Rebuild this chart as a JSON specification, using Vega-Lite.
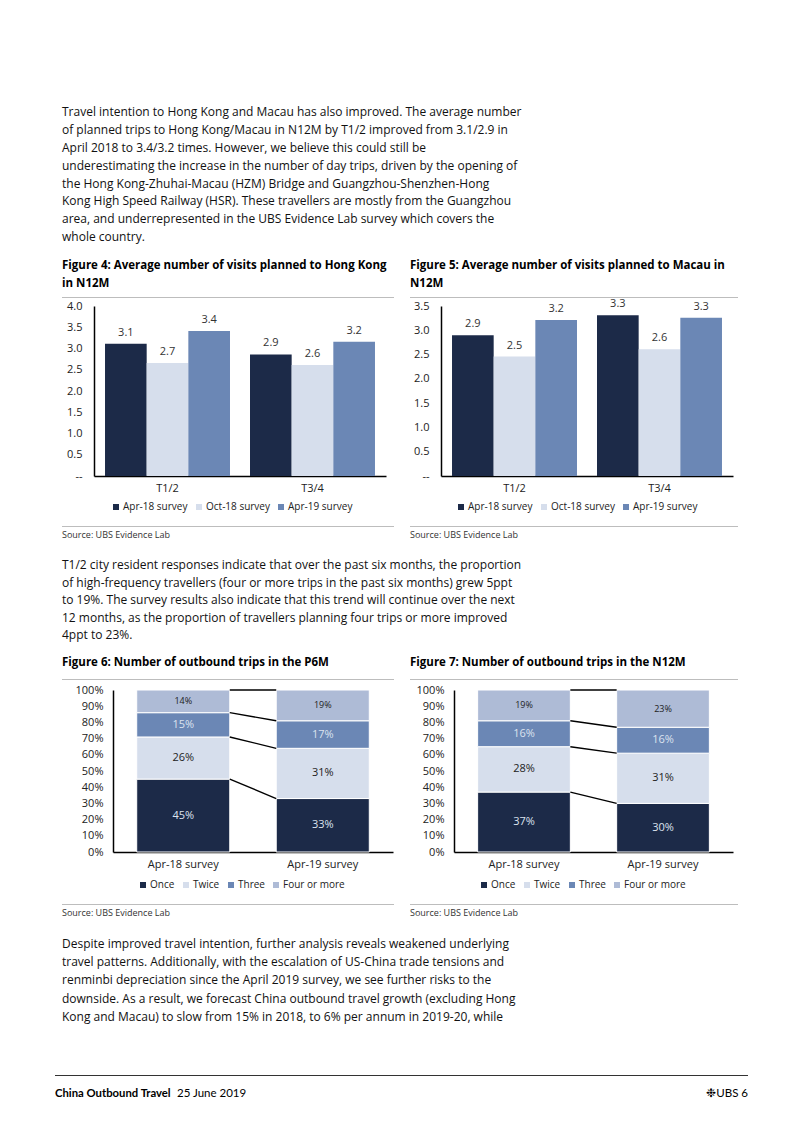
{
  "$schema": "https://vega.github.io/schema/vega-lite/v6.json",
  "background": "white",
  "padding": {"left": 45, "top": 106, "right": 0, "bottom": 0},
  "config": {
    "font": "Open Sans",
    "view": {"stroke": null},
    "axis": {"labelFont": "Open Sans", "labelFontSize": 11, "labelColor": "#222", "domainColor": "#000", "domainWidth": 1.5, "ticks": false, "grid": false, "title": null, "labelOverlap": false},
    "legend": {"labelFont": "Open Sans", "labelFontSize": 10, "labelColor": "#222", "symbolType": "square", "symbolSize": 36, "symbolStrokeWidth": 0, "columnPadding": 6, "labelOffset": 2, "padding": 6, "orient": "none", "direction": "horizontal", "title": null},
    "title": {"font": "Open Sans", "color": "#111"}
  },
  "resolve": {"scale": {"color": "independent", "x": "independent", "y": "independent"}, "legend": {"color": "independent"}},
  "spacing": 19,
  "vconcat": [
    {
      "title": {"text": [
        "Travel intention to Hong Kong and Macau has also improved. The average number",
        "of planned trips to Hong Kong/Macau in N12M by T1/2 improved from 3.1/2.9 in",
        "April 2018 to 3.4/3.2 times. However, we believe this could still be",
        "underestimating the increase in the number of day trips, driven by the opening of",
        "the Hong Kong-Zhuhai-Macau (HZM) Bridge and Guangzhou-Shenzhen-Hong",
        "Kong High Speed Railway (HSR). These travellers are mostly from the Guangzhou",
        "area, and underrepresented in the UBS Evidence Lab survey which covers the",
        "whole country."],
        "anchor": "start", "frame": "bounds", "dx": 17, "fontSize": 12, "fontWeight": "normal", "lineHeight": 17.8, "offset": 16},
      "spacing": 0,
      "resolve": {"scale": {"color": "independent", "x": "independent", "y": "independent"}, "legend": {"color": "independent"}},
      "vconcat": [
        {
          "spacing": 16,
          "hconcat": [
            {"width": 1, "height": 1, "view": {"fill": "white", "stroke": null}, "data": {"values": []}, "mark": "text", "encoding": {"text": {"value": ""}}},
            {
              "width": 332, "height": 1,
              "title": {"text": ["Figure 4: Average number of visits planned to Hong Kong", "in N12M"], "anchor": "start", "frame": "group", "fontSize": 11.5, "fontWeight": "bold", "lineHeight": 18, "offset": 7.5, "color": "#000"},
              "view": {"fill": "#bdbdbd", "stroke": null},
              "data": {"values": []}, "mark": "text", "encoding": {"text": {"value": ""}}
            },
            {
              "width": 328, "height": 1,
              "title": {"text": ["Figure 5: Average number of visits planned to Macau in", "N12M"], "anchor": "start", "frame": "group", "fontSize": 11.5, "fontWeight": "bold", "lineHeight": 18, "offset": 7.5, "color": "#000"},
              "view": {"fill": "#bdbdbd", "stroke": null},
              "data": {"values": []}, "mark": "text", "encoding": {"text": {"value": ""}}
            }
          ]
        },
        {
          "spacing": 16,
          "resolve": {"scale": {"color": "independent", "x": "independent", "y": "independent"}, "legend": {"color": "independent"}},
          "hconcat": [
            {"width": 1, "height": 1, "view": {"fill": "white", "stroke": null}, "data": {"values": []}, "mark": "text", "encoding": {"text": {"value": ""}}},
            {
              "width": 292, "height": 170,
              "data": {"values": [
                {"group": "T1/2", "series": "Apr-18 survey", "v": 3.11},
                {"group": "T1/2", "series": "Oct-18 survey", "v": 2.66},
                {"group": "T1/2", "series": "Apr-19 survey", "v": 3.41},
                {"group": "T3/4", "series": "Apr-18 survey", "v": 2.86},
                {"group": "T3/4", "series": "Oct-18 survey", "v": 2.61},
                {"group": "T3/4", "series": "Apr-19 survey", "v": 3.16}
              ]},
              "encoding": {
                "x": {"field": "group", "type": "nominal", "scale": {"paddingInner": 0.138, "paddingOuter": 0.076}, "axis": {"labelAngle": 0, "labelPadding": 6}},
                "xOffset": {"field": "series", "type": "nominal", "sort": ["Apr-18 survey", "Oct-18 survey", "Apr-19 survey"], "scale": {"paddingInner": 0, "paddingOuter": 0}},
                "y": {"field": "v", "type": "quantitative", "scale": {"domain": [0, 4]}, "axis": {"values": [0, 0.5, 1, 1.5, 2, 2.5, 3, 3.5, 4], "labelPadding": 12, "minExtent": 32, "labelExpr": "datum.value === 0 ? '--' : format(datum.value, '.1f')"}}
              },
              "layer": [
                {"mark": {"type": "bar"},
                 "encoding": {"color": {"field": "series", "type": "nominal", "sort": ["Apr-18 survey", "Oct-18 survey", "Apr-19 survey"], "scale": {"domain": ["Apr-18 survey", "Oct-18 survey", "Apr-19 survey"], "range": ["#1c2a48", "#d6deec", "#6b87b5"]}, "legend": {"legendX": 3, "legendY": 182, "padding": 14}}}},
                {"mark": {"type": "text", "dy": -11, "fontSize": 11, "color": "#333"},
                 "encoding": {"text": {"field": "v", "type": "quantitative", "format": ".1f"}}}
              ]
            },
            {
              "width": 292, "height": 170,
              "data": {"values": [
                {"group": "T1/2", "series": "Apr-18 survey", "v": 2.90},
                {"group": "T1/2", "series": "Oct-18 survey", "v": 2.46},
                {"group": "T1/2", "series": "Apr-19 survey", "v": 3.21},
                {"group": "T3/4", "series": "Apr-18 survey", "v": 3.31},
                {"group": "T3/4", "series": "Oct-18 survey", "v": 2.61},
                {"group": "T3/4", "series": "Apr-19 survey", "v": 3.26}
              ]},
              "encoding": {
                "x": {"field": "group", "type": "nominal", "scale": {"paddingInner": 0.138, "paddingOuter": 0.076}, "axis": {"labelAngle": 0, "labelPadding": 6}},
                "xOffset": {"field": "series", "type": "nominal", "sort": ["Apr-18 survey", "Oct-18 survey", "Apr-19 survey"], "scale": {"paddingInner": 0, "paddingOuter": 0}},
                "y": {"field": "v", "type": "quantitative", "scale": {"domain": [0, 3.5]}, "axis": {"values": [0, 0.5, 1, 1.5, 2, 2.5, 3, 3.5], "labelPadding": 12, "minExtent": 39, "labelExpr": "datum.value === 0 ? '--' : format(datum.value, '.1f')"}}
              },
              "layer": [
                {"mark": {"type": "bar"},
                 "encoding": {"color": {"field": "series", "type": "nominal", "sort": ["Apr-18 survey", "Oct-18 survey", "Apr-19 survey"], "scale": {"domain": ["Apr-18 survey", "Oct-18 survey", "Apr-19 survey"], "range": ["#1c2a48", "#d6deec", "#6b87b5"]}, "legend": {"legendX": 1, "legendY": 182, "padding": 14}}}},
                {"mark": {"type": "text", "dy": -11, "fontSize": 11, "color": "#333"},
                 "encoding": {"text": {"field": "v", "type": "quantitative", "format": ".1f"}}}
              ]
            }
          ]
        },
        {
          "spacing": 16,
          "hconcat": [
            {"width": 1, "height": 1, "view": {"fill": "white", "stroke": null}, "data": {"values": []}, "mark": "text", "encoding": {"text": {"value": ""}}},
            {
              "width": 332, "height": 1,
              "title": {"text": "Source:  UBS Evidence Lab", "orient": "bottom", "anchor": "start", "frame": "group", "fontSize": 9, "fontWeight": "normal", "color": "#333", "offset": 4},
              "view": {"fill": "#bdbdbd", "stroke": null},
              "data": {"values": []}, "mark": "text", "encoding": {"text": {"value": ""}}
            },
            {
              "width": 328, "height": 1,
              "title": {"text": "Source:  UBS Evidence Lab", "orient": "bottom", "anchor": "start", "frame": "group", "fontSize": 9, "fontWeight": "normal", "color": "#333", "offset": 4},
              "view": {"fill": "#bdbdbd", "stroke": null},
              "data": {"values": []}, "mark": "text", "encoding": {"text": {"value": ""}}
            }
          ]
        }
      ]
    },
    {
      "title": {"text": [
        "T1/2 city resident responses indicate that over the past six months, the proportion",
        "of high-frequency travellers (four or more trips in the past six months) grew 5ppt",
        "to 19%. The survey results also indicate that this trend will continue over the next",
        "12 months, as the proportion of travellers planning four trips or more improved",
        "4ppt to 23%."],
        "anchor": "start", "frame": "bounds", "dx": 17, "fontSize": 12, "fontWeight": "normal", "lineHeight": 17.5, "offset": 15},
      "spacing": 4,
      "resolve": {"scale": {"color": "independent", "x": "independent", "y": "independent"}, "legend": {"color": "independent"}},
      "vconcat": [
        {
          "spacing": 16,
          "hconcat": [
            {"width": 1, "height": 1, "view": {"fill": "white", "stroke": null}, "data": {"values": []}, "mark": "text", "encoding": {"text": {"value": ""}}},
            {
              "width": 332, "height": 1,
              "title": {"text": "Figure 6: Number of outbound trips in the P6M", "anchor": "start", "frame": "group", "fontSize": 11.5, "fontWeight": "bold", "offset": 10.5, "color": "#000"},
              "view": {"fill": "#bdbdbd", "stroke": null},
              "data": {"values": []}, "mark": "text", "encoding": {"text": {"value": ""}}
            },
            {
              "width": 328, "height": 1,
              "title": {"text": "Figure 7: Number of outbound trips in the N12M", "anchor": "start", "frame": "group", "fontSize": 11.5, "fontWeight": "bold", "offset": 10.5, "color": "#000"},
              "view": {"fill": "#bdbdbd", "stroke": null},
              "data": {"values": []}, "mark": "text", "encoding": {"text": {"value": ""}}
            }
          ]
        },
        {
          "spacing": 16,
          "resolve": {"scale": {"color": "independent", "x": "independent", "y": "independent"}, "legend": {"color": "independent"}},
          "hconcat": [
            {"width": 1, "height": 1, "view": {"fill": "white", "stroke": null}, "data": {"values": []}, "mark": "text", "encoding": {"text": {"value": ""}}},
            {
              "width": 280, "height": 162,
              "layer": [
                {
                  "data": {"values": [
                    {"survey": "Apr-18 survey", "trips": "Once", "k": 1, "p": 0.45},
                    {"survey": "Apr-18 survey", "trips": "Twice", "k": 2, "p": 0.26},
                    {"survey": "Apr-18 survey", "trips": "Three", "k": 3, "p": 0.15},
                    {"survey": "Apr-18 survey", "trips": "Four or more", "k": 4, "p": 0.14},
                    {"survey": "Apr-19 survey", "trips": "Once", "k": 1, "p": 0.33},
                    {"survey": "Apr-19 survey", "trips": "Twice", "k": 2, "p": 0.31},
                    {"survey": "Apr-19 survey", "trips": "Three", "k": 3, "p": 0.17},
                    {"survey": "Apr-19 survey", "trips": "Four or more", "k": 4, "p": 0.19}
                  ]},
                  "encoding": {
                    "x": {"field": "survey", "type": "nominal", "scale": {"paddingInner": 0.333, "paddingOuter": 0.17}, "axis": {"labelAngle": 0, "labelPadding": 6}},
                    "y": {"field": "p", "type": "quantitative", "stack": "zero", "scale": {"domain": [0, 1]}, "axis": {"values": [0, 0.1, 0.2, 0.3, 0.4, 0.5, 0.6, 0.7, 0.8, 0.9, 1], "format": ".0%", "labelPadding": 10, "minExtent": 51}},
                    "order": {"field": "k", "type": "quantitative"}
                  },
                  "layer": [
                    {"mark": {"type": "bar", "stroke": "white", "strokeWidth": 1},
                     "encoding": {"color": {"field": "trips", "type": "nominal", "sort": ["Once", "Twice", "Three", "Four or more"], "scale": {"domain": ["Once", "Twice", "Three", "Four or more"], "range": ["#1c2a48", "#d6deec", "#6b87b5", "#aebbd6"]}, "legend": {"legendX": 15, "legendY": 180, "padding": 10}}}},
                    {"mark": {"type": "text"},
                     "encoding": {
                       "y": {"field": "p", "type": "quantitative", "stack": "zero", "bandPosition": 0.5, "axis": {"values": [0, 0.1, 0.2, 0.3, 0.4, 0.5, 0.6, 0.7, 0.8, 0.9, 1], "format": ".0%", "labelPadding": 10, "minExtent": 51}},
                       "text": {"field": "p", "type": "quantitative", "format": ".0%"},
                       "size": {"condition": {"test": "datum.trips === 'Four or more'", "value": 9}, "value": 11},
                       "color": {"condition": {"test": "datum.trips === 'Once' || datum.trips === 'Three'", "value": "#dce3ef"}, "value": "#222"}
                     }}
                  ]
                },
                {
                  "data": {"values": [
                    {"from": "Apr-18 survey", "to": "Apr-19 survey", "a": 0.45, "b": 0.33},
                    {"from": "Apr-18 survey", "to": "Apr-19 survey", "a": 0.71, "b": 0.64},
                    {"from": "Apr-18 survey", "to": "Apr-19 survey", "a": 0.86, "b": 0.81},
                    {"from": "Apr-18 survey", "to": "Apr-19 survey", "a": 1.0, "b": 1.0}
                  ]},
                  "mark": {"type": "rule", "color": "#000", "strokeWidth": 1.4},
                  "encoding": {
                    "x": {"field": "from", "type": "nominal", "bandPosition": 1},
                    "x2": {"field": "to", "bandPosition": 0},
                    "y": {"field": "a", "type": "quantitative", "axis": {"values": [0, 0.1, 0.2, 0.3, 0.4, 0.5, 0.6, 0.7, 0.8, 0.9, 1], "format": ".0%", "labelPadding": 10, "minExtent": 51}},
                    "y2": {"field": "b"}
                  }
                }
              ]
            },
            {
              "width": 279, "height": 162,
              "layer": [
                {
                  "data": {"values": [
                    {"survey": "Apr-18 survey", "trips": "Once", "k": 1, "p": 0.37},
                    {"survey": "Apr-18 survey", "trips": "Twice", "k": 2, "p": 0.28},
                    {"survey": "Apr-18 survey", "trips": "Three", "k": 3, "p": 0.16},
                    {"survey": "Apr-18 survey", "trips": "Four or more", "k": 4, "p": 0.19},
                    {"survey": "Apr-19 survey", "trips": "Once", "k": 1, "p": 0.30},
                    {"survey": "Apr-19 survey", "trips": "Twice", "k": 2, "p": 0.31},
                    {"survey": "Apr-19 survey", "trips": "Three", "k": 3, "p": 0.16},
                    {"survey": "Apr-19 survey", "trips": "Four or more", "k": 4, "p": 0.23}
                  ]},
                  "encoding": {
                    "x": {"field": "survey", "type": "nominal", "scale": {"paddingInner": 0.333, "paddingOuter": 0.17}, "axis": {"labelAngle": 0, "labelPadding": 6}},
                    "y": {"field": "p", "type": "quantitative", "stack": "zero", "scale": {"domain": [0, 1]}, "axis": {"values": [0, 0.1, 0.2, 0.3, 0.4, 0.5, 0.6, 0.7, 0.8, 0.9, 1], "format": ".0%", "labelPadding": 10, "minExtent": 45}},
                    "order": {"field": "k", "type": "quantitative"}
                  },
                  "layer": [
                    {"mark": {"type": "bar", "stroke": "white", "strokeWidth": 1},
                     "encoding": {"color": {"field": "trips", "type": "nominal", "sort": ["Once", "Twice", "Three", "Four or more"], "scale": {"domain": ["Once", "Twice", "Three", "Four or more"], "range": ["#1c2a48", "#d6deec", "#6b87b5", "#aebbd6"]}, "legend": {"legendX": 15, "legendY": 180, "padding": 10}}}},
                    {"mark": {"type": "text"},
                     "encoding": {
                       "y": {"field": "p", "type": "quantitative", "stack": "zero", "bandPosition": 0.5, "axis": {"values": [0, 0.1, 0.2, 0.3, 0.4, 0.5, 0.6, 0.7, 0.8, 0.9, 1], "format": ".0%", "labelPadding": 10, "minExtent": 45}},
                       "text": {"field": "p", "type": "quantitative", "format": ".0%"},
                       "size": {"condition": {"test": "datum.trips === 'Four or more'", "value": 9}, "value": 11},
                       "color": {"condition": {"test": "datum.trips === 'Once' || datum.trips === 'Three'", "value": "#dce3ef"}, "value": "#222"}
                     }}
                  ]
                },
                {
                  "data": {"values": [
                    {"from": "Apr-18 survey", "to": "Apr-19 survey", "a": 0.37, "b": 0.30},
                    {"from": "Apr-18 survey", "to": "Apr-19 survey", "a": 0.65, "b": 0.61},
                    {"from": "Apr-18 survey", "to": "Apr-19 survey", "a": 0.81, "b": 0.77},
                    {"from": "Apr-18 survey", "to": "Apr-19 survey", "a": 1.0, "b": 1.0}
                  ]},
                  "mark": {"type": "rule", "color": "#000", "strokeWidth": 1.4},
                  "encoding": {
                    "x": {"field": "from", "type": "nominal", "bandPosition": 1},
                    "x2": {"field": "to", "bandPosition": 0},
                    "y": {"field": "a", "type": "quantitative", "axis": {"values": [0, 0.1, 0.2, 0.3, 0.4, 0.5, 0.6, 0.7, 0.8, 0.9, 1], "format": ".0%", "labelPadding": 10, "minExtent": 45}},
                    "y2": {"field": "b"}
                  }
                }
              ]
            }
          ]
        },
        {
          "spacing": 16,
          "hconcat": [
            {"width": 1, "height": 1, "view": {"fill": "white", "stroke": null}, "data": {"values": []}, "mark": "text", "encoding": {"text": {"value": ""}}},
            {
              "width": 332, "height": 1,
              "title": {"text": "Source:  UBS Evidence Lab", "orient": "bottom", "anchor": "start", "frame": "group", "fontSize": 9, "fontWeight": "normal", "color": "#333", "offset": 4},
              "view": {"fill": "#bdbdbd", "stroke": null},
              "data": {"values": []}, "mark": "text", "encoding": {"text": {"value": ""}}
            },
            {
              "width": 328, "height": 1,
              "title": {"text": "Source:  UBS Evidence Lab", "orient": "bottom", "anchor": "start", "frame": "group", "fontSize": 9, "fontWeight": "normal", "color": "#333", "offset": 4},
              "view": {"fill": "#bdbdbd", "stroke": null},
              "data": {"values": []}, "mark": "text", "encoding": {"text": {"value": ""}}
            }
          ]
        }
      ]
    },
    {
      "title": {"text": [
        "Despite improved travel intention, further analysis reveals weakened underlying",
        "travel patterns. Additionally, with the escalation of US-China trade tensions and",
        "renminbi depreciation since the April 2019 survey, we see further risks to the",
        "downside. As a result, we forecast China outbound travel growth (excluding Hong",
        "Kong and Macau) to slow from 15% in 2018, to 6% per annum in 2019-20, while"],
        "anchor": "start", "frame": "bounds", "dx": 17, "fontSize": 12, "fontWeight": "normal", "lineHeight": 18.3, "offset": 51},
      "spacing": 0,
      "hconcat": [
        {"width": 10, "height": 1, "view": {"fill": "white", "stroke": null}, "data": {"values": []}, "mark": "text", "encoding": {"text": {"value": ""}}},
        {
          "width": 122, "height": 1,
          "title": {"text": "China Outbound Travel", "orient": "bottom", "anchor": "start", "frame": "group", "font": "Lato", "fontSize": 11.3, "fontWeight": "bold", "color": "#000", "offset": 12},
          "view": {"fill": "#333", "stroke": null},
          "data": {"values": []}, "mark": "text", "encoding": {"text": {"value": ""}}
        },
        {
          "width": 200, "height": 1,
          "title": {"text": "25 June 2019", "orient": "bottom", "anchor": "start", "frame": "group", "font": "Lato", "fontSize": 11.5, "fontWeight": "normal", "color": "#000", "offset": 12},
          "view": {"fill": "#333", "stroke": null},
          "data": {"values": []}, "mark": "text", "encoding": {"text": {"value": ""}}
        },
        {
          "width": 371, "height": 1,
          "title": {"text": "❉UBS  6", "orient": "bottom", "anchor": "end", "frame": "group", "font": "Lato", "fontSize": 11.5, "fontWeight": "normal", "color": "#000", "offset": 12},
          "view": {"fill": "#333", "stroke": null},
          "data": {"values": []}, "mark": "text", "encoding": {"text": {"value": ""}}
        }
      ]
    }
  ]
}
